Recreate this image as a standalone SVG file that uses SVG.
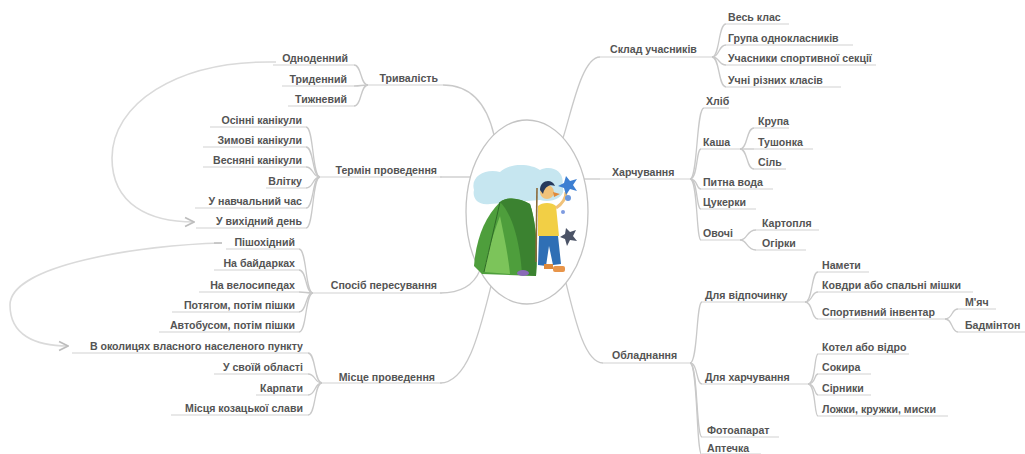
<svg xmlns="http://www.w3.org/2000/svg" width="1025" height="454" viewBox="0 0 1025 454">
  <style>
    text { font-family: "Liberation Sans", Arial, sans-serif; font-size: 10.6px; font-weight: bold; fill: #545454; }
    .l { text-anchor: end; }
    .ln { fill: none; stroke: #c9c9c9; stroke-width: 1.3; }
    .ul { fill: none; stroke: #d2d2d2; stroke-width: 1.2; }
    .rel { fill: none; stroke: #dadada; stroke-width: 1.6; }
  </style>
  <defs>
    <marker id="arr" viewBox="0 0 10 10" refX="9" refY="5" markerWidth="7" markerHeight="7" orient="auto">
      <path d="M1,1 L9,5 L1,9" fill="none" stroke="#bdbdbd" stroke-width="1.5"/>
    </marker>
  </defs>
  <rect width="1025" height="454" fill="#ffffff"/>

  <!-- connectors -->
  <g id="connectors">
    <!-- centre to main topics -->
    <path class="ln" d="M443,85 C472,85 487,105 494,135"/>
    <path class="ln" d="M440,177 L470,177"/>
    <path class="ln" d="M440,293 C462,293 474,285 480,270"/>
    <path class="ln" d="M440,383 C468,383 480,330 491,286"/>
    <path class="ln" d="M563,138 C572,110 582,57 600,57"/>
    <path class="ln" d="M584,179 L600,179"/>
    <path class="ln" d="M566,283 C575,320 585,363 603,363"/>

    <!-- Тривалість -->
    <path class="ln" d="M368,85 C360,85 362,65 354,65"/>
    <path class="ln" d="M368,85 C360,85 362,86 354,86"/>
    <path class="ln" d="M368,85 C360,85 362,106 354,106"/>
    <!-- Термін проведення -->
    <path class="ln" d="M320,177 C312,177 314,127 306,127"/>
    <path class="ln" d="M320,177 C312,177 314,147 306,147"/>
    <path class="ln" d="M320,177 C312,177 314,167 306,167"/>
    <path class="ln" d="M320,177 C312,177 314,188 306,188"/>
    <path class="ln" d="M320,177 C312,177 314,208 306,208"/>
    <path class="ln" d="M320,177 C312,177 314,228 306,228"/>
    <!-- Спосіб пересування -->
    <path class="ln" d="M313,293 C305,293 307,249 299,249"/>
    <path class="ln" d="M313,293 C305,293 307,270 299,270"/>
    <path class="ln" d="M313,293 C305,293 307,292 299,292"/>
    <path class="ln" d="M313,293 C305,293 307,312 299,312"/>
    <path class="ln" d="M313,293 C305,293 307,332 299,332"/>
    <!-- Місце проведення -->
    <path class="ln" d="M322,383 C314,383 316,353 308,353"/>
    <path class="ln" d="M322,383 C314,383 316,374 308,374"/>
    <path class="ln" d="M322,383 C314,383 316,395 308,395"/>
    <path class="ln" d="M322,383 C314,383 316,415 308,415"/>

    <!-- Склад учасників -->
    <path class="ln" d="M712,57 C720,57 718,24 726,24"/>
    <path class="ln" d="M712,57 C720,57 718,45 726,45"/>
    <path class="ln" d="M712,57 C720,57 718,65 726,65"/>
    <path class="ln" d="M712,57 C720,57 718,87 726,87"/>
    <!-- Харчування -->
    <path class="ln" d="M690,179 C698,179 696,108 704,108"/>
    <path class="ln" d="M690,179 C698,179 696,149 701,149"/>
    <path class="ln" d="M690,179 C698,179 696,189 701,189"/>
    <path class="ln" d="M690,179 C698,179 696,209 701,209"/>
    <path class="ln" d="M690,179 C698,179 696,240 701,240"/>
    <path class="ln" d="M740,149 C748,149 746,128 754,128"/>
    <path class="ln" d="M740,149 L754,149"/>
    <path class="ln" d="M740,149 C748,149 746,169 754,169"/>
    <path class="ln" d="M740,240 C748,240 746,230 756,230"/>
    <path class="ln" d="M740,240 C748,240 746,250 756,250"/>
    <!-- Обладнання -->
    <path class="ln" d="M690,363 C698,363 696,302 702,302"/>
    <path class="ln" d="M690,363 C698,363 696,384 702,384"/>
    <path class="ln" d="M690,363 C698,363 696,437 702,437"/>
    <path class="ln" d="M690,363 C698,363 696,455 702,455"/>
    <path class="ln" d="M805,302 C813,302 811,272 818,272"/>
    <path class="ln" d="M805,302 C813,302 811,292 818,292"/>
    <path class="ln" d="M805,302 C813,302 811,319 818,319"/>
    <path class="ln" d="M945,319 C953,319 951,309 958,309"/>
    <path class="ln" d="M945,319 C953,319 951,332 958,332"/>
    <path class="ln" d="M808,384 C816,384 814,354 818,354"/>
    <path class="ln" d="M808,384 C816,384 814,374 818,374"/>
    <path class="ln" d="M808,384 C816,384 814,395 818,395"/>
    <path class="ln" d="M808,384 C816,384 814,416 818,416"/>

    <!-- relationship loops -->
    <path class="rel" d="M276,62 C175,60 112,105 112,158 C112,205 150,222 194,222" marker-end="url(#arr)"/>
    <path class="rel" d="M222,243 C140,245 10,265 10,305 C10,335 35,346 68,346" marker-end="url(#arr)"/>
    <path d="M214,243 L222,243" stroke="#bdbdbd" stroke-width="1.4"/>
  </g>

  <!-- central topic -->
  <g id="centre">
    <ellipse cx="527" cy="212" rx="61" ry="92" fill="#ffffff" stroke="#c4c4c4" stroke-width="1.3"/>
    <!-- sky patch -->
    <path d="M474,190 C470,176 486,168 500,172 C510,162 532,164 540,170 C552,164 566,172 562,186 C568,196 552,204 540,200 L490,204 C478,206 472,198 474,190 Z" fill="#c6e6f0"/>
    <!-- tent -->
    <path d="M474,266 C476,240 484,218 500,202 C508,196 520,198 530,204 C536,222 538,248 536,276 L482,274 Z" fill="#4e9e3c"/>
    <path d="M500,202 C512,214 520,240 522,275 L536,276 C538,248 536,222 530,204 C520,198 508,196 500,202 Z" fill="#3b8230"/>
    <path d="M484,272 C488,250 494,232 500,216 C504,236 508,254 510,274 Z" fill="#7cc45a"/>
    <path d="M500,202 C496,220 490,246 484,272" fill="none" stroke="#2f6b27" stroke-width="1"/>
    <ellipse cx="523" cy="273" rx="6" ry="3" fill="#8a6ab8"/>
    <!-- hiking pole -->
    <path d="M537,188 L536,262" stroke="#8a6a3a" stroke-width="1.6"/>
    <!-- hiker -->
    <path d="M539,236 L558,236 L561,264 L553,265 L549,246 L546,266 L538,265 Z" fill="#2f6fb5"/>
    <path d="M538,206 C542,202 552,202 556,206 L559,236 L538,236 Z" fill="#f2cf45"/>
    <path d="M556,208 C562,204 566,198 566,192" fill="none" stroke="#f0c27a" stroke-width="3"/>
    <circle cx="547" cy="192" r="7" fill="#f0c27a"/>
    <path d="M540,190 C540,180 552,178 555,186 C550,184 545,186 543,194 Z" fill="#263a5c"/>
    <path d="M553,192 L560,194 L554,197 Z" fill="#e08a3a"/>
    <rect x="544" y="264" width="9" height="5" fill="#e08a3a"/>
    <rect x="553" y="266" width="12" height="6" rx="2" fill="#e8954a"/>
    <!-- blue flowers -->
    <path d="M566,176 L570,181 L577,179 L573,185 L577,191 L570,189 L566,195 L564,188 L558,186 L564,183 Z" fill="#3c7fd2"/>
    <circle cx="568" cy="198" r="3" fill="#6a98dd"/>
    <path d="M566,228 L570,232 L576,230 L573,236 L577,241 L570,240 L567,246 L565,239 L560,237 L565,234 Z" fill="#4b5366"/>
    <circle cx="563" cy="212" r="2" fill="#7e9be0"/>
  </g>

  <!-- Тривалість -->
  <g id="tryvalist">
    <path class="ul" d="M368,85 L443,85"/>
    <text class="l" x="438" y="81.5">Тривалість</text>
    <path class="ul" d="M273,65 L354,65"/><text class="l" x="348" y="61.5">Одноденний</text>
    <path class="ul" d="M282,86 L354,86"/><text class="l" x="347" y="82.5">Триденний</text>
    <path class="ul" d="M288,106 L354,106"/><text class="l" x="347" y="102.5">Тижневий</text>
  </g>

  <!-- Термін проведення -->
  <g id="termin">
    <path class="ul" d="M320,177 L442,177"/>
    <text class="l" x="437" y="173.5">Термін проведення</text>
    <path class="ul" d="M210,127 L306,127"/><text class="l" x="302" y="123.5">Осінні канікули</text>
    <path class="ul" d="M203,147 L306,147"/><text class="l" x="302" y="143.5">Зимові канікули</text>
    <path class="ul" d="M203,167 L306,167"/><text class="l" x="302" y="163.5">Весняні канікули</text>
    <path class="ul" d="M266,188 L306,188"/><text class="l" x="302" y="184.5">Влітку</text>
    <path class="ul" d="M195,208 L306,208"/><text class="l" x="302" y="204.5">У навчальний час</text>
    <path class="ul" d="M196,228 L306,228"/><text class="l" x="302" y="224.5">У вихідний день</text>
  </g>

  <!-- Спосіб пересування -->
  <g id="sposib">
    <path class="ul" d="M313,293 L442,293"/>
    <text class="l" x="437" y="288.5">Спосіб пересування</text>
    <path class="ul" d="M226,249 L299,249"/><text class="l" x="295" y="245.5">Пішохідний</text>
    <path class="ul" d="M214,270 L299,270"/><text class="l" x="295" y="266.5">На байдарках</text>
    <path class="ul" d="M199,292 L299,292"/><text class="l" x="295" y="288.5">На велосипедах</text>
    <path class="ul" d="M172,312 L299,312"/><text class="l" x="295" y="308.5">Потягом, потім пішки</text>
    <path class="ul" d="M159,332 L299,332"/><text class="l" x="295" y="328.5">Автобусом, потім пішки</text>
  </g>

  <!-- Місце проведення -->
  <g id="mistse">
    <path class="ul" d="M322,383 L442,383"/>
    <text class="l" x="435" y="380.5">Місце проведення</text>
    <path class="ul" d="M72,353 L308,353"/><text class="l" x="303" y="349.5">В околицях власного населеного пункту</text>
    <path class="ul" d="M214,374 L308,374"/><text class="l" x="303" y="370.5">У своїй області</text>
    <path class="ul" d="M256,395 L308,395"/><text class="l" x="303" y="391.5">Карпати</text>
    <path class="ul" d="M171,415 L308,415"/><text class="l" x="303" y="411.5">Місця козацької слави</text>
  </g>

  <!-- Склад учасників -->
  <g id="sklad">
    <path class="ul" d="M600,57 L712,57"/>
    <text x="610" y="52.5">Склад учасників</text>
    <path class="ul" d="M726,24 L789,24"/><text x="728" y="20.5">Весь клас</text>
    <path class="ul" d="M726,45 L853,45"/><text x="728" y="41.5">Група однокласників</text>
    <path class="ul" d="M726,65 L876,65"/><text x="728" y="61.5">Учасники спортивної секції</text>
    <path class="ul" d="M726,87 L841,87"/><text x="728" y="83.5">Учні різних класів</text>
  </g>

  <!-- Харчування -->
  <g id="kharchuvannia">
    <path class="ul" d="M600,179 L690,179"/>
    <text x="612" y="175.5">Харчування</text>
    <path class="ul" d="M704,108 L729,108"/><text x="706" y="104.5">Хліб</text>
    <path class="ul" d="M701,149 L740,149"/><text x="703" y="145.5">Каша</text>
    <path class="ul" d="M754,128 L789,128"/><text x="758" y="124.5">Крупа</text>
    <path class="ul" d="M754,149 L813,149"/><text x="758" y="145.5">Тушонка</text>
    <path class="ul" d="M754,169 L786,169"/><text x="758" y="165.5">Сіль</text>
    <path class="ul" d="M701,189 L773,189"/><text x="703" y="185.5">Питна вода</text>
    <path class="ul" d="M701,209 L756,209"/><text x="703" y="205.5">Цукерки</text>
    <path class="ul" d="M701,240 L740,240"/><text x="703" y="236.5">Овочі</text>
    <path class="ul" d="M756,230 L819,230"/><text x="762" y="226.5">Картопля</text>
    <path class="ul" d="M756,250 L806,250"/><text x="762" y="246.5">Огірки</text>
  </g>

  <!-- Обладнання -->
  <g id="obladnannia">
    <path class="ul" d="M603,363 L690,363"/>
    <text x="612" y="358.5">Обладнання</text>
    <path class="ul" d="M702,302 L805,302"/><text x="705" y="298.5">Для відпочинку</text>
    <path class="ul" d="M818,272 L869,272"/><text x="822" y="268.5">Намети</text>
    <path class="ul" d="M818,292 L973,292"/><text x="822" y="288.5">Ковдри або спальні мішки</text>
    <path class="ul" d="M818,319 L945,319"/><text x="822" y="315.5">Спортивний інвентар</text>
    <path class="ul" d="M958,309 L996,309"/><text x="965" y="305.5">М'яч</text>
    <path class="ul" d="M958,332 L1025,332"/><text x="965" y="328.5">Бадмінтон</text>
    <path class="ul" d="M702,384 L808,384"/><text x="705" y="380.5">Для харчування</text>
    <path class="ul" d="M818,354 L909,354"/><text x="822" y="350.5">Котел або відро</text>
    <path class="ul" d="M818,374 L871,374"/><text x="822" y="370.5">Сокира</text>
    <path class="ul" d="M818,395 L871,395"/><text x="822" y="391.5">Сірники</text>
    <path class="ul" d="M818,416 L948,416"/><text x="822" y="412.5">Ложки, кружки, миски</text>
    <path class="ul" d="M702,437 L779,437"/><text x="707" y="433.5">Фотоапарат</text>
    <path class="ul" d="M702,454 L761,454"/><text x="707" y="451.5">Аптечка</text>
  </g>
</svg>
